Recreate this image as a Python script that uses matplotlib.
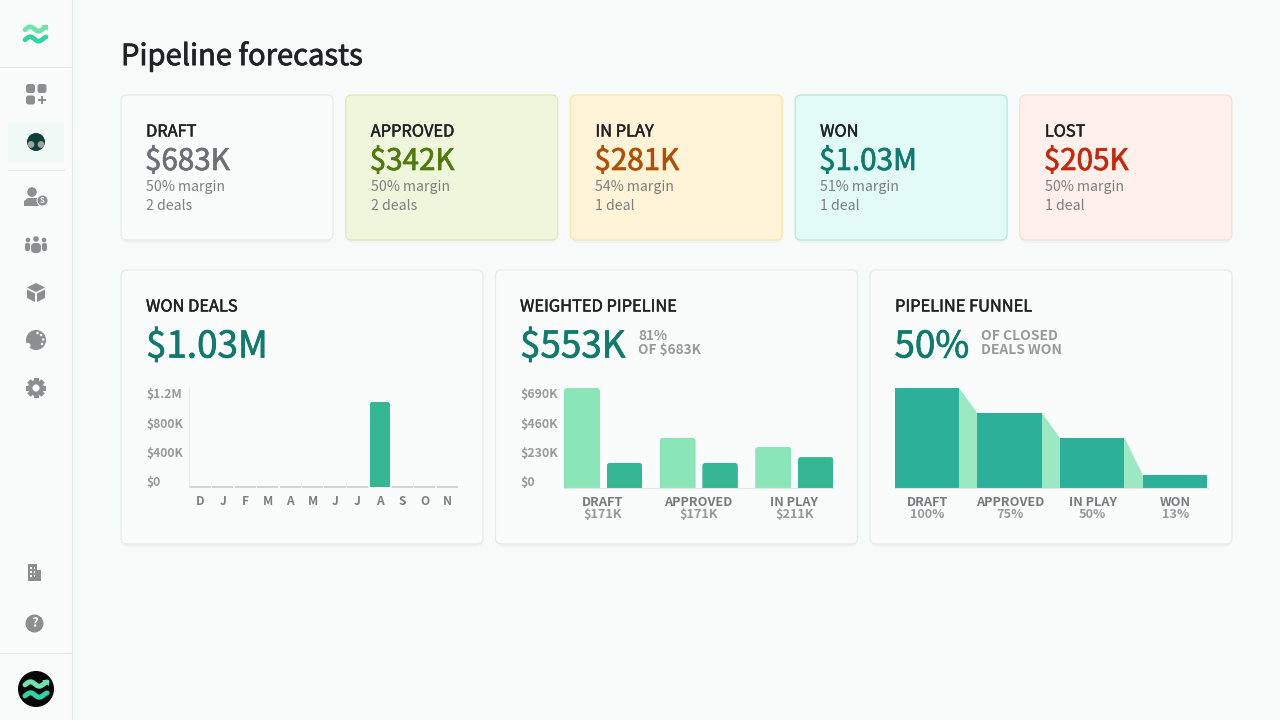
import numpy as np
import matplotlib
matplotlib.use('Agg')
import matplotlib.pyplot as plt
import matplotlib.patheffects as pe
from matplotlib.patches import FancyBboxPatch, Rectangle, Circle, Polygon
from matplotlib.transforms import IdentityTransform, Affine2D

plt.rcParams['font.family'] = ['Noto Sans CJK SC', 'DejaVu Sans']

# ---- data ----
page_title = 'Pipeline forecasts'
stage_names = ['DRAFT', 'APPROVED', 'IN PLAY', 'WON', 'LOST']
stage_values = ['$683K', '$342K', '$281K', '$1.03M', '$205K']
stage_margins = ['50% margin', '50% margin', '54% margin', '51% margin', '50% margin']
stage_deals = ['2 deals', '2 deals', '1 deal', '1 deal', '1 deal']

months = ['D', 'J', 'F', 'M', 'A', 'M', 'J', 'J', 'A', 'S', 'O', 'N']
won_by_month = [0, 0, 0, 0, 0, 0, 0, 0, 1030, 0, 0, 0]
won_ticks = ['$1.2M', '$800K', '$400K', '$0']

pipeline_stages = ['DRAFT', 'APPROVED', 'IN PLAY']
pipeline_total = [683, 342, 281]
pipeline_weighted = [171, 171, 211]
pipeline_ticks = ['$690K', '$460K', '$230K', '$0']

funnel_stages = ['DRAFT', 'APPROVED', 'IN PLAY', 'WON']
funnel_pct = [100, 75, 50, 13]

# ---- style ----
BG = '#f6fbf9'
INK = '#202223'
GREY = '#7c8080'
TICK = '#969a9a'
TEAL = '#0f7b6c'
DARK = '#35b793'
LIGHT = '#8ae6b8'
FUNNEL = '#2cb09a'
FUNNEL_L = '#9be8c2'
stage_fill = ['#fafbfb', '#eef7dc', '#fff3d8', '#e2fbf6', '#fff0ec']
stage_edge = ['#e6eaea', '#dfe9b5', '#f9e5ae', '#b4e8d9', '#f5e0d4']
stage_color = ['#6d7175', '#50790e', '#b04f05', '#0f7b6c', '#c5280c']

W, H = 1280, 720
fig = plt.figure(figsize=(W / 100, H / 100), dpi=100, facecolor=BG)
ov = fig.add_axes([0, 0, 1, 1], zorder=0)
ov.set_xlim(0, W)
ov.set_ylim(H, 0)
ov.axis('off')


def pax(x0, y0, x1, y1):
    ax = fig.add_axes([x0 / W, 1 - y1 / H, (x1 - x0) / W, (y1 - y0) / H], zorder=2)
    ax.patch.set_alpha(0)
    return ax


def T(x, y, s, size, color=INK, weight='normal', ha='left', stroke=0):
    t = ov.text(x, y, s, fontsize=size, color=color, fontweight=weight, ha=ha, va='center', zorder=6)
    if stroke:
        t.set_path_effects([pe.withStroke(linewidth=stroke, foreground=color)])
    return t


def card(x0, y0, x1, y1, fill, edge):
    ov.add_patch(FancyBboxPatch((x0 + 1, y0 + 3), x1 - x0 - 2, y1 - y0, boxstyle='round,pad=0,rounding_size=6',
                                fc='#eef2f1', ec='none', alpha=.8, zorder=1))
    ov.add_patch(FancyBboxPatch((x0, y0), x1 - x0, y1 - y0, boxstyle='round,pad=0,rounding_size=6',
                                fc=fill, ec=edge, lw=0.9, zorder=2))


def round_bars(bars, r=3):
    for b in bars:
        e = b.get_window_extent()
        clip = FancyBboxPatch((e.x0, e.y0 - 8), e.width, e.height + 8,
                              boxstyle=f'round,pad=0,rounding_size={r}', transform=IdentityTransform())
        b.set_clip_path(clip)


# ---- sidebar ----
LN = '#e4e8e8'
ov.add_patch(Rectangle((0, 0), 72, H, fc='#fafbfb', ec='none', zorder=1))
ov.plot([72, 72], [0, H], color=LN, lw=0.8, zorder=2)
ov.plot([0, 72], [66.5, 66.5], color=LN, lw=0.8, zorder=2)
ov.plot([8, 64], [169.5, 169.5], color=LN, lw=0.8, zorder=2)
ov.plot([0, 72], [652.5, 652.5], color=LN, lw=0.8, zorder=2)
ov.add_patch(Rectangle((8, 122), 56, 40, fc='#f0fbf8', ec='none', zorder=1))

IC = '#8c8f8f'
SB = '#fafbfb'


def ic_rect(x, y, w, h, r=2, c=IC):
    ov.add_patch(FancyBboxPatch((x, y), w, h, boxstyle=f'round,pad=0,rounding_size={r}', fc=c, ec='none', zorder=3))


def ic_circ(x, y, r, c=IC):
    ov.add_patch(Circle((x, y), r, fc=c, ec='none', zorder=3))


def wave(cx, cy, w, color, lw, arrow=False):
    t = np.linspace(-1, 1, 40)
    xs, ys = cx + t * w, cy + 2.2 * np.sin(t * np.pi * 1.25 + 0.4)
    ov.plot(xs, ys, color=color, lw=lw, zorder=5, solid_capstyle='round')
    if arrow:
        ov.add_patch(Polygon([[cx + w + 2, cy - 4], [cx + w + 2, cy + 2], [cx + w - 5, cy - 4]], fc=color, zorder=5))


wave(35.5, 29, 10.5, '#6fe3ae', 3.4, True)
wave(35.5, 39, 10.5, '#2fd6a3', 3.4)

# dashboard
ic_rect(26, 84, 9, 9, 2.5)
ic_rect(37.5, 84, 9, 9, 2.5)
ic_rect(26, 95.5, 9, 9, 2.5)
ov.add_patch(Rectangle((38, 98.6), 8, 2.8, fc=IC, zorder=3))
ov.add_patch(Rectangle((40.6, 96), 2.8, 8, fc=IC, zorder=3))
# forecast
ic_circ(36, 142, 9, '#0f3f3c')
ic_circ(31, 144.5, 3.4, '#9aa5a2')
ic_circ(41, 144.5, 3.4, '#9aa5a2')
# person
ic_circ(32, 192, 4.8)
ov.add_patch(Polygon([[24, 206], [24, 201], [28, 198], [37, 198], [39, 206]], fc=IC, zorder=3))
ic_circ(42.5, 200.5, 6, SB)
ic_circ(42.5, 200.5, 5)
T(42.5, 200.3, 'S', 5.5, SB, 'bold', 'center')
# team
ic_circ(36, 239, 2.8)
ic_circ(28, 240, 2.3)
ic_circ(44, 240, 2.3)
ic_rect(31, 243, 10, 10, 4)
ic_rect(25, 243, 5, 8, 2)
ic_rect(42, 243, 5, 8, 2)
# box
ov.add_patch(Polygon([[36, 283], [45, 287.5], [36, 292], [27, 287.5]], fc=IC, zorder=3))
ov.add_patch(Polygon([[27, 289.5], [35, 293.5], [35, 302], [27, 298]], fc=IC, zorder=3))
ov.add_patch(Polygon([[45, 289.5], [37, 293.5], [37, 302], [45, 298]], fc=IC, zorder=3))
# palette
ic_circ(36, 340, 10)
ic_circ(28, 345.5, 2.6, BG)
for px, py in [(41, 335), (43.2, 339.5), (37.5, 333), (42, 344)]:
    ic_circ(px, py, 1.3, SB)
# gear
for a in np.arange(0, 180, 45):
    ov.add_patch(Rectangle((33.5, 378), 5, 20, fc=IC, zorder=3,
                           transform=Affine2D().rotate_deg_around(36, 388, a) + ov.transData))
ic_circ(36, 388, 8)
ic_circ(36, 388, 3.6, SB)
# building
ov.add_patch(Rectangle((28, 564), 9, 17, fc=IC, zorder=3))
ov.add_patch(Rectangle((37, 570), 4, 11, fc=IC, zorder=3))
for xx in (30, 33.5):
    for yy in (567, 571, 575):
        ov.add_patch(Rectangle((xx, yy), 1.6, 1.6, fc=SB, zorder=4))
# help
ic_circ(34.5, 623.5, 9)
T(34.5, 623, '?', 9.5, SB, 'bold', 'center')
# avatar
ic_circ(36, 689, 18, '#050707')
wave(36, 684, 11, '#6fe3ae', 3.6, True)
wave(36, 695, 11, '#2fd6a3', 3.6)

# ---- title ----
T(121, 57, page_title, 21, INK, 'normal', stroke=0.55)

# ---- stage cards ----
for i, nm in enumerate(stage_names):
    x = 121 + i * 224.7
    card(x, 95, x + 212, 240, stage_fill[i], stage_edge[i])
    tx = x + 25
    T(tx, 132, nm, 11.8, INK, stroke=0.35)
    T(tx - 1, 161.5, stage_values[i], 21.3, stage_color[i], stroke=0.5)
    T(tx, 186.5, stage_margins[i], 10.2, GREY)
    T(tx, 206.5, stage_deals[i], 10.2, GREY)

# ---- lower cards ----
for x0, x1 in [(121, 483), (495.5, 857.5), (870, 1232)]:
    card(x0, 270, x1, 544, '#fafbfb', '#e6eaea')

T(146, 307, 'WON DEALS', 11.8, INK, stroke=0.35)
T(146, 347, '$1.03M', 26.5, TEAL, stroke=0.5)
T(520, 307, 'WEIGHTED PIPELINE', 11.8, INK, stroke=0.35)
T(520, 347, '$553K', 26.5, TEAL, stroke=0.5)
T(638, 336.5, '81%', 9.8, TICK, 'bold')
T(638, 350.5, 'OF $683K', 9.8, TICK, 'bold')
T(895, 307, 'PIPELINE FUNNEL', 11.8, INK, stroke=0.35)
T(894.5, 347, '50%', 26.5, TEAL, stroke=0.5)
T(981, 336.5, 'OF CLOSED', 10, TICK, 'bold')
T(981, 350.5, 'DEALS WON', 10, TICK, 'bold')

for y, s in zip([394.5, 424.5, 453.5, 482.5], won_ticks):
    T(146, y, s, 8.7, TICK, 'bold')
for y, s in zip([394.5, 424.5, 453.5, 482.5], pipeline_ticks):
    T(520, y, s, 8.9, TICK, 'bold')

# ---- won deals chart ----
ax1 = pax(189, 388, 458.5, 487)
xm = np.arange(len(months))
ax1.set_xlim(-0.5, 11.5)
ax1.set_ylim(0, 1200)
nz = [v for v in won_by_month if v > 0]
bars1 = ax1.bar([i for i, v in zip(xm, won_by_month) if v > 0], nz, width=0.92, color=DARK)
for i, v in zip(xm, won_by_month):
    if v == 0:
        ax1.plot([i - .47, i + .47], [v, v], color='#cfd4d4', lw=1.4, clip_on=False, solid_capstyle='butt')
for s in ('top', 'right', 'bottom'):
    ax1.spines[s].set_visible(False)
ax1.spines['left'].set_color('#e3eeea')
ax1.spines['left'].set_linewidth(0.8)
ax1.set_yticks([])
ax1.set_xticks(xm)
ax1.set_xticklabels(months, fontsize=8.6, color='#7b7f7f', fontweight='bold')
ax1.tick_params(axis='x', length=0, pad=6)

# ---- weighted pipeline chart ----
ax2 = pax(564, 388, 833, 488)
ax2.set_xlim(0, 269)
ax2.set_ylim(0, 683)
pitch = 95.6
xg = 18 + np.arange(3) * pitch
bars2a = ax2.bar(xg, pipeline_total, width=36, color=LIGHT)
bars2b = ax2.bar(xg + 42.5, pipeline_weighted, width=35.5, color=DARK)
for s in ('top', 'right', 'left'):
    ax2.spines[s].set_visible(False)
ax2.spines['bottom'].set_color('#e3e7e7')
ax2.spines['bottom'].set_linewidth(0.8)
ax2.set_yticks([])
ax2.set_xticks([])
for i, nm in enumerate(pipeline_stages):
    cx = 564 + xg[i] + 21
    T(cx, 502, nm, 9.2, '#767a7a', 'bold', 'center')
    T(cx, 514, f'${pipeline_weighted[i]}K', 9.2, TICK, 'bold', 'center')

# ---- funnel chart ----
ax3 = pax(894.5, 388, 1207.5, 488)
ax3.set_xlim(0, 313)
ax3.set_ylim(0, 100)
fw, fp = 64.5, 82.7
fx = np.arange(4) * fp
ax3.bar(fx, funnel_pct, width=fw, align='edge', color=FUNNEL, zorder=2)
for i in range(3):
    ax3.fill_between([fx[i] + fw - 1, fx[i] + fw, fx[i + 1], fx[i + 1] + 1],
                     [funnel_pct[i], funnel_pct[i], funnel_pct[i + 1], funnel_pct[i + 1]], 0,
                     color=FUNNEL_L, lw=0, zorder=1)
for s in ('top', 'right', 'left'):
    ax3.spines[s].set_visible(False)
ax3.spines['bottom'].set_color('#e3e7e7')
ax3.spines['bottom'].set_linewidth(0.8)
ax3.set_yticks([])
ax3.set_xticks([])
for i, nm in enumerate(funnel_stages):
    cx = 895 + fx[i] + fw / 2
    T(cx, 502, nm, 9.2, '#767a7a', 'bold', 'center')
    T(cx, 514, f'{funnel_pct[i]}%', 9.2, TICK, 'bold', 'center')

fig.canvas.draw()
round_bars(bars1)
round_bars(bars2a)
round_bars(bars2b)

fig.savefig('out.png', dpi=100, facecolor=BG)
